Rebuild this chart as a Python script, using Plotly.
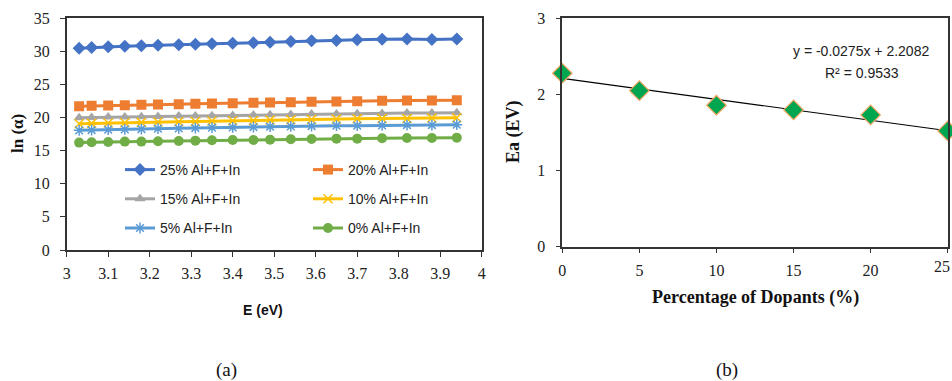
import plotly.graph_objects as go

# ---------------- data ----------------
energy_ev = [3.03, 3.06, 3.10, 3.14, 3.18, 3.22, 3.27, 3.31, 3.35, 3.40,
             3.45, 3.49, 3.54, 3.59, 3.65, 3.70, 3.76, 3.82, 3.88, 3.94]

ln_alpha_25 = [30.45, 30.55, 30.65, 30.75, 30.8, 30.9, 30.95, 31.05, 31.1, 31.2,
               31.25, 31.35, 31.45, 31.55, 31.6, 31.7, 31.8, 31.85, 31.75, 31.85]
ln_alpha_20 = [21.7, 21.75, 21.8, 21.85, 21.9, 21.95, 22.0, 22.05, 22.1, 22.15,
               22.2, 22.25, 22.3, 22.35, 22.4, 22.45, 22.5, 22.55, 22.55, 22.6]
ln_alpha_15 = [19.95, 20.0, 20.05, 20.05, 20.1, 20.15, 20.2, 20.2, 20.25, 20.3,
               20.35, 20.4, 20.45, 20.5, 20.5, 20.55, 20.6, 20.65, 20.65, 20.7]
ln_alpha_10 = [19.05, 19.1, 19.15, 19.2, 19.25, 19.3, 19.35, 19.4, 19.45, 19.5,
               19.55, 19.6, 19.65, 19.7, 19.75, 19.8, 19.85, 19.85, 19.9, 19.95]
ln_alpha_5 = [18.05, 18.1, 18.15, 18.2, 18.25, 18.3, 18.35, 18.4, 18.45, 18.5,
              18.55, 18.6, 18.65, 18.7, 18.75, 18.75, 18.8, 18.85, 18.85, 18.9]
ln_alpha_0 = [16.2, 16.25, 16.3, 16.35, 16.35, 16.4, 16.45, 16.5, 16.55, 16.6,
              16.6, 16.65, 16.7, 16.75, 16.8, 16.8, 16.85, 16.9, 16.9, 16.95]

series_names = ["25% Al+F+In", "20% Al+F+In", "15% Al+F+In",
                "10% Al+F+In", "5% Al+F+In", "0% Al+F+In"]

dopant_pct = [0, 5, 10, 15, 20, 25]
ea_ev = [2.275, 2.047, 1.856, 1.794, 1.729, 1.519]
trend_slope = -0.0275
trend_intercept = 2.2082
trend_r2 = 0.9533

x_ticks_a = [3, 3.1, 3.2, 3.3, 3.4, 3.5, 3.6, 3.7, 3.8, 3.9, 4]
x_tick_labels_a = ["3", "3.1", "3.2", "3.3", "3.4", "3.5", "3.6", "3.7", "3.8", "3.9", "4"]
y_ticks_a = [0, 5, 10, 15, 20, 25, 30, 35]
x_ticks_b = [0, 5, 10, 15, 20, 25]
y_ticks_b = [0, 1, 2, 3]

# ---------------- styles ----------------
colors = ["#4472C4", "#ED7D31", "#A5A5A5", "#FFC000", "#5B9BD5", "#70AD47"]
symbols = ["diamond", "square", "triangle-up", "x-thin", "asterisk", "circle"]
sizes = [10, 10, 10, 9, 9, 10]
legend_ids = ["legend", "legend2", "legend", "legend2", "legend", "legend2"]

serif = "Liberation Serif, Times New Roman, serif"
sans = "Liberation Sans, Arial, sans-serif"

fig = go.Figure()

all_series = [ln_alpha_25, ln_alpha_20, ln_alpha_15, ln_alpha_10, ln_alpha_5, ln_alpha_0]
for i, ys in enumerate(all_series):
    open_sym = symbols[i] in ("x-thin", "asterisk")
    fig.add_trace(go.Scatter(
        x=energy_ev, y=ys, mode="lines+markers", name=series_names[i],
        line=dict(color=colors[i], width=3),
        marker=dict(symbol=symbols[i], size=sizes[i], color=colors[i],
                    line=dict(color=colors[i], width=1.5 if open_sym else 0)),
        legend=legend_ids[i], legendgroup=series_names[i],
        xaxis="x", yaxis="y",
    ))

# trendline for (b)
trend_x = [dopant_pct[0], dopant_pct[-1]]
trend_y = [trend_slope * v + trend_intercept for v in trend_x]
fig.add_trace(go.Scatter(
    x=trend_x, y=trend_y, mode="lines", line=dict(color="black", width=1.2),
    showlegend=False, xaxis="x2", yaxis="y2", hoverinfo="skip"))
fig.add_trace(go.Scatter(
    x=dopant_pct, y=ea_ev, mode="markers",
    marker=dict(symbol="diamond", size=15, color="#00A550",
                line=dict(color="#F4A460", width=1.2)),
    showlegend=False, xaxis="x2", yaxis="y2", cliponaxis=False))

W, H = 952, 381
def px_x(p):
    return p / W
def px_y(p):
    return 1 - p / H

axis_common = dict(showline=True, linecolor="#333333", linewidth=1.5, mirror=True,
                   ticks="outside", ticklen=5, tickcolor="#333333", tickwidth=1.2,
                   showgrid=False, zeroline=False, automargin=False,
                   tickfont=dict(family=serif, size=16, color="#222222"))

fig.update_layout(
    width=W, height=H, margin=dict(l=0, r=0, t=0, b=0, autoexpand=False),
    paper_bgcolor="white", plot_bgcolor="white",
    xaxis=dict(domain=[px_x(66.7), px_x(481.7)], range=[3, 4], tickvals=x_ticks_a,
               ticktext=x_tick_labels_a, anchor="y", ticklabelstandoff=3, **axis_common),
    yaxis=dict(domain=[px_y(250), px_y(18)], range=[0, 35], tickvals=y_ticks_a,
               anchor="x", ticklabelstandoff=7, **axis_common),
    xaxis2=dict(domain=[px_x(562.3), px_x(947.7)], range=[0, 25], tickvals=x_ticks_b,
                anchor="y2", ticklabelstandoff=3, **axis_common),
    yaxis2=dict(domain=[px_y(246.7), px_y(18)], range=[0, 3], tickvals=y_ticks_b,
                anchor="x2", ticklabelstandoff=7, **axis_common),
    legend=dict(x=px_x(120), y=px_y(154), xanchor="left", yanchor="top",
                bgcolor="rgba(0,0,0,0)", tracegroupgap=8,
                font=dict(family=sans, size=14, color="#222222")),
    legend2=dict(x=px_x(308), y=px_y(154), xanchor="left", yanchor="top",
                 bgcolor="rgba(0,0,0,0)", tracegroupgap=8,
                 font=dict(family=sans, size=14, color="#222222")),
    showlegend=True,
)

annotations = [
    dict(text="<b>ln (α)</b>", x=px_x(17), y=px_y(134), textangle=-90,
         font=dict(family=serif, size=17, color="#111111")),
    dict(text="<b>E (eV)</b>", x=px_x(263), y=px_y(310),
         font=dict(family=sans, size=14, color="#111111")),
    dict(text="<b>Ea (EV)</b>", x=px_x(513), y=px_y(132), textangle=-90,
         font=dict(family=serif, size=18, color="#111111")),
    dict(text="<b>Percentage of Dopants (%)</b>", x=px_x(755), y=px_y(297),
         font=dict(family=serif, size=18, color="#111111")),
    dict(text=f"y = {trend_slope}x + {trend_intercept}", x=px_x(861), y=px_y(51),
         font=dict(family=sans, size=14, color="#222222")),
    dict(text=f"R² = {trend_r2}", x=px_x(862), y=px_y(73),
         font=dict(family=sans, size=14, color="#222222")),
    dict(text="(a)", x=px_x(226), y=px_y(370),
         font=dict(family=serif, size=19, color="#111111")),
    dict(text="(b)", x=px_x(727), y=px_y(370),
         font=dict(family=serif, size=19, color="#111111")),
]
for a in annotations:
    a.update(xref="paper", yref="paper", showarrow=False, xanchor="center", yanchor="middle")

# last tick label of (b): sits at the right edge of the page, kept fully visible
annotations.append(dict(text=str(x_ticks_b[-1]), x=px_x(952), xref="paper",
                        y=px_y(266), yref="paper", showarrow=False,
                        xanchor="right", yanchor="middle",
                        font=dict(family=serif, size=16, color="#222222")))
fig.update_layout(annotations=annotations)

fig.write_html("out.html")
